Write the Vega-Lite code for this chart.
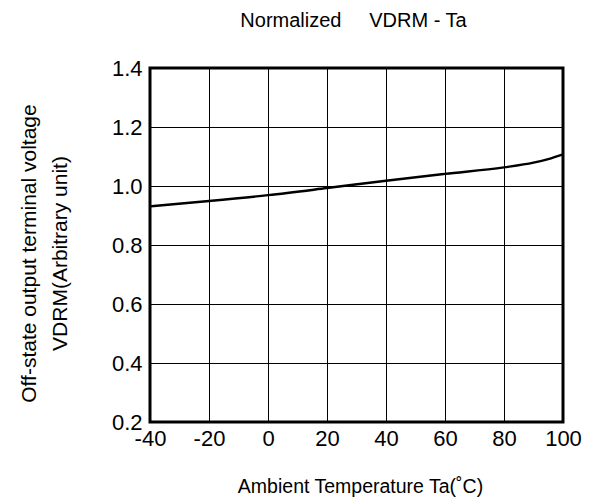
{
  "$schema": "https://vega.github.io/schema/vega-lite/v6.json",
  "autosize": "none",
  "width": 413,
  "height": 354,
  "padding": {"left": 150, "top": 68, "right": 28, "bottom": 79},
  "background": "white",
  "config": {
    "font": "Liberation Sans",
    "view": {"stroke": "black", "strokeWidth": 3},
    "axis": {"labelFont": "Liberation Sans", "titleFont": "Liberation Sans", "labelColor": "black", "titleColor": "black", "titleFontWeight": "normal"}
  },
  "title": {
    "text": "Normalized \u00a0\u00a0\u00a0\u00a0VDRM - Ta",
    "font": "Liberation Sans",
    "fontSize": 20,
    "fontWeight": "normal",
    "color": "black",
    "anchor": "middle",
    "frame": "group",
    "dx": -3,
    "offset": 26
  },
  "data": {
    "values": [
      {"t": -40, "v": 0.931},
      {"t": -20, "v": 0.949},
      {"t": 0, "v": 0.969},
      {"t": 20, "v": 0.993},
      {"t": 40, "v": 1.018},
      {"t": 60, "v": 1.041},
      {"t": 80, "v": 1.063},
      {"t": 90, "v": 1.079},
      {"t": 95, "v": 1.091},
      {"t": 100, "v": 1.107}
    ]
  },
  "mark": {"type": "line", "color": "black", "strokeWidth": 2.4, "interpolate": "monotone"},
  "encoding": {
    "x": {
      "field": "t",
      "type": "quantitative",
      "scale": {"domain": [-40, 100], "nice": false, "zero": false},
      "axis": {
        "values": [-40, -20, 0, 20, 40, 60, 80, 100],
        "labelExpr": "replace(datum.label, '−', '-')",
        "title": "Ambient Temperature Ta(˚C)",
        "titleFontSize": 19.5,
        "titleBaseline": "alphabetic",
        "titleAlign": "center",
        "titleX": 210,
        "titleY": 70,
        "labelFontSize": 22,
        "labelPadding": 6,
        "ticks": false,
        "tickSize": 0,
        "domain": false,
        "grid": true,
        "gridColor": "black",
        "gridWidth": 1,
        "gridOpacity": 1,
        "labelFlush": false,
        "labelOverlap": false
      }
    },
    "y": {
      "field": "v",
      "type": "quantitative",
      "scale": {"domain": [0.2, 1.4], "nice": false, "zero": false},
      "axis": {
        "values": [0.2, 0.4, 0.6, 0.8, 1.0, 1.2, 1.4],
        "format": ".1f",
        "title": ["Off-state output terminal voltage", "VDRM(Arbitrary unit)"],
        "titleFontSize": 21,
        "titleLineHeight": 31,
        "titleAngle": -90,
        "titleAlign": "center",
        "titleBaseline": "top",
        "titleX": -132,
        "titleY": 185,
        "labelFontSize": 22,
        "labelPadding": 8,
        "ticks": false,
        "tickSize": 0,
        "domain": false,
        "grid": true,
        "gridColor": "black",
        "gridWidth": 1,
        "gridOpacity": 1,
        "labelFlush": false,
        "labelOverlap": false
      }
    }
  }
}
